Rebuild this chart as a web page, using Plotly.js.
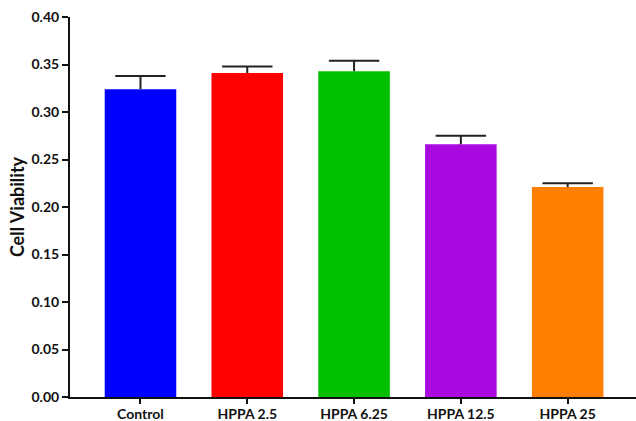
<!DOCTYPE html>
<html>
<head>
<meta charset="utf-8">
<script src="https://cdn.plot.ly/plotly-3.0.1.min.js"></script>
<style>html,body{margin:0;padding:0;background:#fff;}#chart{width:636px;height:421px;}</style>
</head>
<body>
<div id="chart"></div>
<script>
const categories = ["Control", "HPPA 2.5", "HPPA 6.25", "HPPA 12.5", "HPPA 25"];
const viability = [0.324, 0.341, 0.343, 0.266, 0.221];
const errorUp = [0.014, 0.007, 0.011, 0.009, 0.004];
const barColors = ["#0000FF", "#FF0000", "#00C000", "#AA0ADF", "#FF8000"];
const yTicks = [0, 0.05, 0.10, 0.15, 0.20, 0.25, 0.30, 0.35, 0.40];

const upperEnd = viability.map((v, i) => v + errorUp[i]);

const barTrace = {
  type: "bar",
  x: categories,
  y: viability,
  marker: { color: barColors, line: { width: 0 } },
  hoverinfo: "none"
};
// upward-only error bars: stem from bar top to the upper end, cap at the upper end
const stemTrace = {
  type: "scatter",
  mode: "markers",
  x: categories,
  y: upperEnd,
  marker: { symbol: "line-ew", size: 36, color: "#222", line: { color: "#222", width: 2 } },
  error_y: {
    type: "data",
    symmetric: false,
    array: errorUp.map(() => 0),
    arrayminus: errorUp,
    color: "#222",
    thickness: 2,
    width: 0
  },
  hoverinfo: "none"
};

const tickFont = { family: "Lato", size: 14, color: "#111", weight: "bold" };

const layout = {
  width: 636,
  height: 421,
  margin: { l: 70, r: 0, t: 17, b: 24 },
  paper_bgcolor: "#fff",
  plot_bgcolor: "#fff",
  bargap: 0.33,
  showlegend: false,
  font: { family: "Lato, 'Open Sans', sans-serif", color: "#111", size: 12 },
  xaxis: {
    type: "category",
    range: [-0.66, 4.64],
    showline: true,
    linecolor: "#111",
    linewidth: 2,
    ticks: "outside",
    ticklen: 5,
    tickwidth: 2,
    tickcolor: "#111",
    showgrid: false,
    zeroline: false,
    ticklabelstandoff: -2,
    tickfont: tickFont
  },
  yaxis: {
    range: [0, 0.4],
    tickvals: yTicks,
    tickformat: ".2f",
    showline: true,
    linecolor: "#111",
    linewidth: 2,
    ticks: "outside",
    ticklen: 6,
    tickwidth: 2,
    tickcolor: "#111",
    showgrid: false,
    zeroline: false,
    tickfont: tickFont,
    title: { text: "Cell Viability", font: { family: "Lato", size: 18, color: "#111", weight: "bold" }, standoff: 2 }
  }
};

Plotly.newPlot("chart", [barTrace, stemTrace], layout, { displayModeBar: false, staticPlot: true });
</script>
</body>
</html>
